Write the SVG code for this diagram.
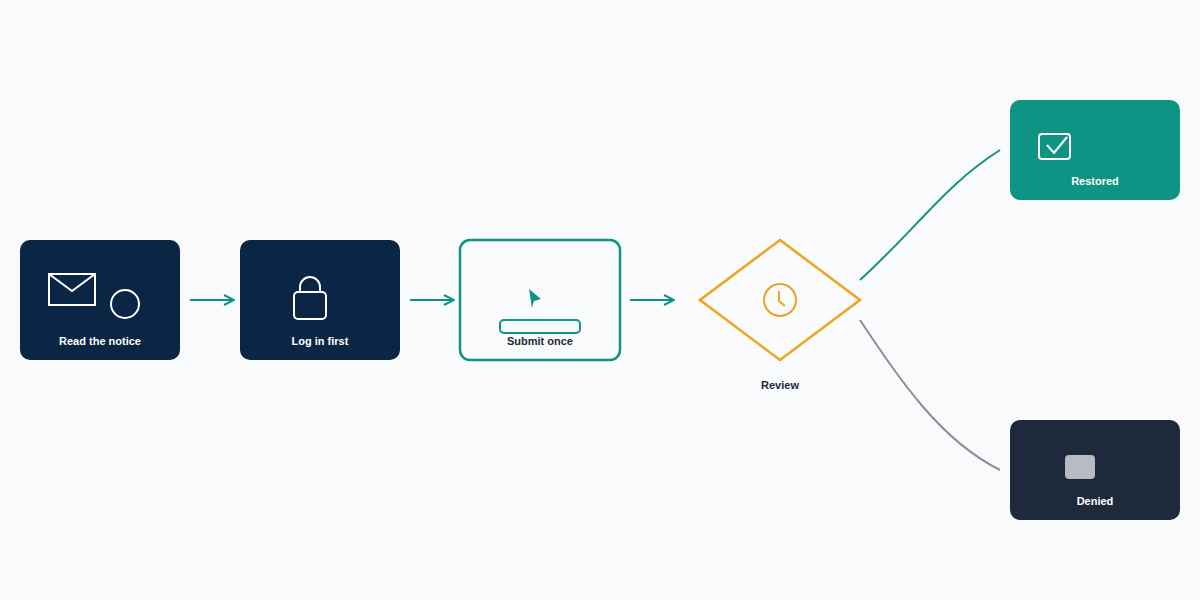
<svg xmlns="http://www.w3.org/2000/svg" width="1200" height="600" viewBox="0 0 1200 600">
<defs>
<style>
text{font-family:"Liberation Sans",Arial,sans-serif;font-size:11px;font-weight:bold;text-anchor:middle}
.w{fill:#ffffff}.d{fill:#1e293b}
.ic{fill:none;stroke:#ffffff;stroke-width:2}
.flow{fill:none;stroke:#0e9384;stroke-width:2}
</style>
<marker id="ah" viewBox="0 0 12 12" refX="11" refY="6" markerWidth="12" markerHeight="12" markerUnits="userSpaceOnUse" orient="auto"><path d="M1,1 L11,6 L1,11" fill="none" stroke="#0e9384" stroke-width="2"/></marker>
</defs>
<rect width="1200" height="600" fill="#f8fafc"/>
<g id="connectors">
<line class="flow" x1="190" y1="300" x2="234" y2="300" marker-end="url(#ah)"/>
<line class="flow" x1="410" y1="300" x2="454" y2="300" marker-end="url(#ah)"/>
<line class="flow" x1="630" y1="300" x2="674" y2="300" marker-end="url(#ah)"/>
<path class="flow" d="M860,280 C920,225 945,185 1000,150"/>
<path d="M860,320 C900,380 940,440 1000,470" fill="none" stroke="#8e8e96" stroke-width="2"/>
</g>
<g id="n1">
<rect x="20" y="240" width="160" height="120" rx="10" fill="#0b2545"/>
<rect class="ic" x="49" y="274" width="46" height="31"/>
<path class="ic" d="M49,274 L72,291 L95,274"/>
<circle class="ic" cx="125" cy="304" r="14"/>
<text class="w" x="100" y="345">Read the notice</text>
</g>
<g id="n2">
<rect x="240" y="240" width="160" height="120" rx="10" fill="#0b2545"/>
<rect class="ic" x="294" y="292" width="32" height="27" rx="4"/>
<path class="ic" d="M300,292 V287 A10,10 0 0 1 320,287 V292"/>
<text class="w" x="320" y="345">Log in first</text>
</g>
<g id="n3">
<rect x="460" y="240" width="160" height="120" rx="10" fill="#f8fafc" stroke="#0e9384" stroke-width="2.5"/>
<path d="M529,289 L541,299 L534,301 L532,308 Z" fill="#0e9384"/>
<rect x="500" y="320" width="80" height="13" rx="4" fill="none" stroke="#0e9384" stroke-width="2"/>
<text class="d" x="540" y="345">Submit once</text>
</g>
<g id="review">
<path d="M780,240 L860,300 L780,360 L700,300 Z" fill="none" stroke="#f0a21c" stroke-width="2.5"/>
<circle cx="780" cy="300" r="16" fill="none" stroke="#f0a21c" stroke-width="2"/>
<path d="M779,291 V301 L785,306" fill="none" stroke="#f0a21c" stroke-width="2"/>
<text class="d" x="780" y="389">Review</text>
</g>
<g id="restored">
<rect x="1010" y="100" width="170" height="100" rx="10" fill="#0e9384"/>
<rect class="ic" x="1039" y="134" width="31" height="25" rx="3"/>
<path class="ic" d="M1047,145 L1054,153 L1067,137"/>
<text class="w" x="1095" y="185">Restored</text>
</g>
<g id="denied">
<rect x="1010" y="420" width="170" height="100" rx="10" fill="#1e293b"/>
<rect x="1065" y="455" width="30" height="24" rx="4" fill="#b8bbc4"/>
<text class="w" x="1095" y="505">Denied</text>
</g>
</svg>
